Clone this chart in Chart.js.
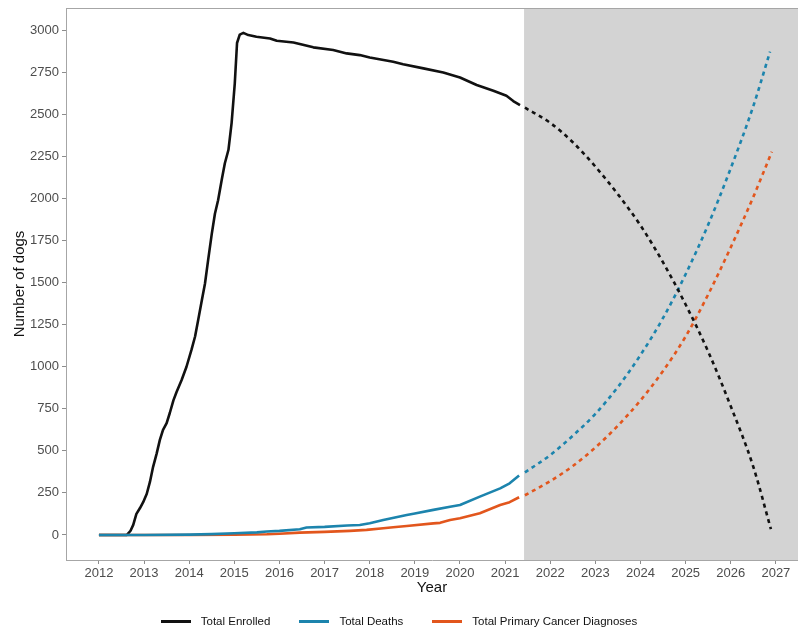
<!DOCTYPE html>
<html>
<head>
<meta charset="utf-8">
<script src="https://cdn.jsdelivr.net/npm/chart.js@4/dist/chart.umd.min.js"></script>
<style>
  html, body { margin: 0; padding: 0; background: #ffffff; }
  #wrap { position: relative; width: 798px; height: 630px; }
  #legend {
    position: absolute; left: 0; top: 612px; width: 798px; height: 18px;
    display: flex; justify-content: center; align-items: center; gap: 29px;
    font-family: "Liberation Sans", Arial, sans-serif; font-size: 11.5px; color: #111;
  }
  .item { display: flex; align-items: center; }
  .swatch { width: 30px; height: 3px; margin-right: 10px; }
</style>
</head>
<body>
<div id="wrap">
  <canvas id="chart" width="798" height="630"></canvas>
  <div id="legend"></div>
</div>
<script>
// Observed cohort counts (decimal year, number of dogs)
const enrolledYears = [2012.00, 2012.30, 2012.62, 2012.70, 2012.76, 2012.83, 2012.91, 2012.98, 2013.06, 2013.13,
  2013.20, 2013.28, 2013.35, 2013.42, 2013.50, 2013.57, 2013.65, 2013.72, 2013.83, 2013.94,
  2014.05, 2014.13, 2014.20, 2014.28, 2014.35, 2014.42, 2014.50, 2014.57, 2014.64, 2014.72,
  2014.79, 2014.87, 2014.94, 2015.01, 2015.06, 2015.12, 2015.20, 2015.31, 2015.49, 2015.79,
  2015.94, 2016.31, 2016.75, 2017.19, 2017.49, 2017.78, 2018.00, 2018.52, 2018.74, 2019.19,
  2019.63, 2020.00, 2020.37, 2020.74, 2021.03, 2021.18, 2021.33];
const enrolledValues = [0, 0, 0, 25, 60, 125, 160, 195, 245, 315,
  405, 485, 565, 625, 665, 725, 800, 850, 920, 1000,
  1100, 1180, 1280, 1395, 1495, 1635, 1790, 1910, 1990, 2110,
  2210, 2290, 2450, 2685, 2925, 2975, 2985, 2972, 2962, 2952,
  2938, 2928, 2899, 2883, 2863, 2853, 2839, 2813, 2799, 2774,
  2750, 2720, 2675, 2641, 2611, 2580, 2556];

const deathYears = [2012.00, 2013.00, 2014.00, 2014.50, 2015.00, 2015.50, 2015.72, 2016.00, 2016.45, 2016.60,
  2017.00, 2017.50, 2017.78, 2018.00, 2018.30, 2018.82, 2019.00, 2019.41, 2019.78, 2020.00,
  2020.44, 2020.89, 2021.10, 2021.31];
const deathValues = [0, 0, 2, 5, 10, 15, 20, 24, 34, 44,
  48, 56, 59, 70, 89, 119, 128, 149, 168, 178,
  228, 277, 307, 353];

const cancerYears = [2012.00, 2014.00, 2015.00, 2015.72, 2016.00, 2016.45, 2017.00, 2017.56, 2017.93, 2018.30,
  2018.52, 2018.82, 2019.41, 2019.56, 2019.78, 2020.00, 2020.44, 2020.89, 2021.10, 2021.31];
const cancerValues = [0, 0, 2, 4, 7, 14, 18, 24, 30, 40,
  46, 53, 69, 72, 89, 99, 129, 178, 195, 224];

// Projected counts beyond the observation window
const projYears = [2021.44, 2022.0, 2022.5, 2023.0, 2023.5, 2024.0, 2024.5, 2025.0, 2025.5, 2026.0, 2026.5];
const enrolledProjValues = [2540, 2450, 2335, 2190, 2025, 1840, 1620, 1370, 1090, 765, 405];
const deathProjValues = [372, 475, 590, 720, 880, 1070, 1290, 1550, 1845, 2180, 2550];
const cancerProjValues = [236, 320, 410, 520, 650, 800, 975, 1180, 1430, 1710, 2010];
// Last projected point of each series
const enrolledProjEnd = [2026.89, 34];
const deathProjEnd = [2026.87, 2873];
const cancerProjEnd = [2026.91, 2278];

// Axis ticks and the start of the projected period
const yearTicks = [2012, 2013, 2014, 2015, 2016, 2017, 2018, 2019, 2020, 2021, 2022, 2023, 2024, 2025, 2026, 2027];
const countTicks = [0, 250, 500, 750, 1000, 1250, 1500, 1750, 2000, 2250, 2500, 2750, 3000];
const projectionStart = 2021.42;

const seriesNames = ['Total Enrolled', 'Total Deaths', 'Total Primary Cancer Diagnoses'];
const seriesColors = ['#111111', '#1c84ad', '#e2561d'];

const FONT = '"Liberation Sans", Arial, sans-serif';

function points(xs, ys) { return xs.map((x, i) => ({ x: x, y: ys[i] })); }

function observed(name, color, xs, ys) {
  return { label: name, data: points(xs, ys), borderColor: color, backgroundColor: color,
    borderWidth: 2.6, pointRadius: 0, tension: 0, fill: false, borderJoinStyle: 'round' };
}
function projected(name, color, ys, end) {
  const data = points(projYears, ys);
  data.push({ x: end[0], y: end[1] });
  return { label: name + ' (projected)', data: data, borderColor: color, backgroundColor: color,
    borderWidth: 2.6, borderDash: [4, 4], pointRadius: 0, cubicInterpolationMode: 'monotone', fill: false };
}

// Grey band behind the projected years, plus the panel's top edge
const panelPlugin = {
  id: 'panel',
  beforeDraw(chart) {
    const { ctx, chartArea, scales } = chart;
    const x0 = scales.x.getPixelForValue(projectionStart);
    ctx.save();
    ctx.fillStyle = '#d3d3d3';
    ctx.fillRect(x0, chartArea.top, chartArea.right - x0, chartArea.bottom - chartArea.top);
    ctx.restore();
  },
  afterDraw(chart) {
    const { ctx, chartArea } = chart;
    ctx.save();
    ctx.strokeStyle = '#a6a6a6';
    ctx.lineWidth = 1;
    ctx.beginPath();
    ctx.moveTo(chartArea.left, chartArea.top + 0.5);
    ctx.lineTo(chartArea.right, chartArea.top + 0.5);
    ctx.stroke();
    ctx.restore();
  }
};

new Chart(document.getElementById('chart'), {
  type: 'line',
  data: {
    datasets: [
      observed(seriesNames[1], seriesColors[1], deathYears, deathValues),
      observed(seriesNames[2], seriesColors[2], cancerYears, cancerValues),
      observed(seriesNames[0], seriesColors[0], enrolledYears, enrolledValues),
      projected(seriesNames[0], seriesColors[0], enrolledProjValues, enrolledProjEnd),
      projected(seriesNames[1], seriesColors[1], deathProjValues, deathProjEnd),
      projected(seriesNames[2], seriesColors[2], cancerProjValues, cancerProjEnd)
    ]
  },
  options: {
    responsive: false,
    animation: false,
    devicePixelRatio: 1,
    layout: { padding: { top: 8, left: 0, right: 0, bottom: 30 } },
    plugins: { legend: { display: false }, tooltip: { enabled: false } },
    scales: {
      x: {
        type: 'linear',
        min: 2011.27,
        max: 2027.49,
        afterFit(scale) { scale.height = 40; scale.paddingLeft = 0; scale.paddingRight = 0; },
        afterBuildTicks(scale) { scale.ticks = yearTicks.map(v => ({ value: v })); },
        ticks: { color: '#4d4d4d', font: { family: FONT, size: 13 }, padding: 2, maxRotation: 0,
          autoSkip: false, callback: v => String(v) },
        grid: { drawOnChartArea: false, drawTicks: true, tickLength: 4, color: '#8c8c8c' },
        border: { display: true, color: '#a6a6a6', width: 1 },
        title: { display: true, text: 'Year', color: '#111', font: { family: FONT, size: 15 },
          padding: { top: 0, bottom: 3 } }
      },
      y: {
        type: 'linear',
        min: -149,
        max: 3133,
        afterFit(scale) { scale.width = 66; scale.paddingTop = 0; scale.paddingBottom = 0; },
        afterBuildTicks(scale) { scale.ticks = countTicks.map(v => ({ value: v })); },
        ticks: { color: '#4d4d4d', font: { family: FONT, size: 13 }, padding: 3, autoSkip: false,
          callback: v => String(v) },
        grid: { drawOnChartArea: false, drawTicks: true, tickLength: 4, color: '#8c8c8c' },
        border: { display: true, color: '#a6a6a6', width: 1 },
        title: { display: true, text: 'Number of dogs', color: '#111', font: { family: FONT, size: 15 },
          padding: { top: 11, bottom: 0 } }
      }
    }
  },
  plugins: [panelPlugin]
});

// Legend row under the plot
const legend = document.getElementById('legend');
seriesNames.forEach((name, i) => {
  const item = document.createElement('div');
  item.className = 'item';
  const sw = document.createElement('span');
  sw.className = 'swatch';
  sw.style.background = seriesColors[i];
  const txt = document.createElement('span');
  txt.textContent = name;
  item.appendChild(sw);
  item.appendChild(txt);
  legend.appendChild(item);
});
</script>
</body>
</html>
